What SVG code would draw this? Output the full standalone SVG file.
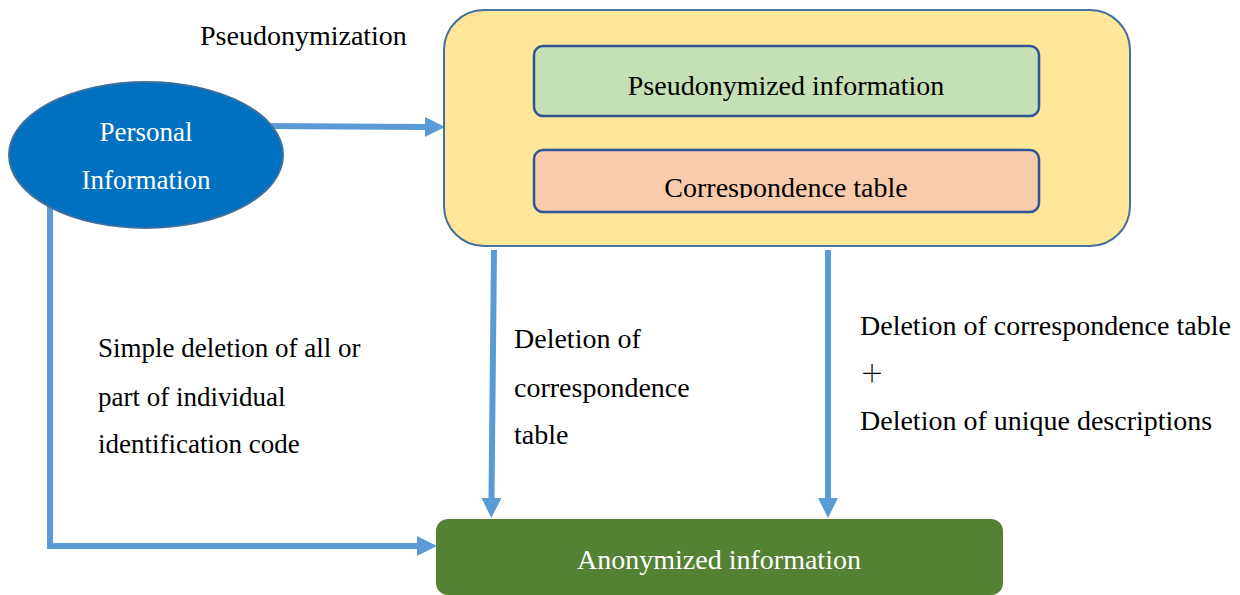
<svg xmlns="http://www.w3.org/2000/svg" width="1240" height="595" viewBox="0 0 1240 595">
  <style>
    text { font-family: "Liberation Serif", "DejaVu Serif", serif; font-size: 28px; fill: #000; }
    .w { fill: #fff; }
    .c { text-anchor: middle; }
    .s27 { font-size: 27px; }
    .conn { fill: none; stroke: #5B9BD5; stroke-width: 6; }
  </style>
  <defs>
    <marker id="arrow" viewBox="0 0 20 20" refX="0" refY="10" markerWidth="20" markerHeight="20" markerUnits="userSpaceOnUse" orient="auto">
      <path d="M0,0 L20,10 L0,20 Z" fill="#5B9BD5"/>
    </marker>
    <clipPath id="tableClip">
      <rect x="534" y="150" width="505" height="48"/>
    </clipPath>
  </defs>

  <rect width="1240" height="595" fill="#fff"/>

  <!-- connectors -->
  <g id="connectors">
    <path class="conn" d="M263,126 L425,127" marker-end="url(#arrow)"/>
    <path class="conn" d="M50,205 L50,546 L417,546" marker-end="url(#arrow)"/>
    <path class="conn" d="M494,250 L491.5,498" marker-end="url(#arrow)"/>
    <path class="conn" d="M828,250 L828,498" marker-end="url(#arrow)"/>
  </g>

  <!-- source node -->
  <g id="personal">
    <ellipse cx="146" cy="155" rx="137" ry="73" fill="#0070C0" stroke="#41719C" stroke-width="2"/>
    <text class="w c s27" x="146" y="141" font-family="Liberation Serif, serif">Personal</text>
    <text class="w c s27" x="146" y="189" font-family="Liberation Serif, serif">Information</text>
  </g>

  <!-- pseudonymization container -->
  <g id="pseudonymization">
    <text x="200" y="45">Pseudonymization</text>
    <rect x="444" y="10" width="686" height="236" rx="40" fill="#FFE699" stroke="#41719C" stroke-width="2"/>
  </g>

  <g id="pseudonymized-info">
    <rect x="534" y="46" width="505" height="70" rx="9" fill="#C5E0B4" stroke="#2F5597" stroke-width="2.5"/>
    <text class="c" x="786" y="95">Pseudonymized information</text>
  </g>

  <g id="correspondence-table">
    <rect x="534" y="150" width="505" height="62" rx="9" fill="#F8CBAD" stroke="#2F5597" stroke-width="2.5"/>
    <text class="c" x="786" y="197" clip-path="url(#tableClip)">Correspondence table</text>
  </g>

  <!-- result node -->
  <g id="anonymized">
    <rect x="436" y="519" width="567" height="76" rx="12" fill="#548235"/>
    <text class="w c" x="719" y="569">Anonymized information</text>
  </g>

  <!-- connector labels -->
  <g id="label-simple">
    <text class="s27" x="98" y="357">Simple deletion of all or</text>
    <text class="s27" x="98" y="406">part of individual</text>
    <text class="s27" x="98" y="453">identification code</text>
  </g>
  <g id="label-table">
    <text x="514" y="348">Deletion of</text>
    <text x="514" y="397">correspondence</text>
    <text x="514" y="444">table</text>
  </g>
  <g id="label-both">
    <text x="860" y="335">Deletion of correspondence table</text>
    <text x="860" y="382" style="font-family:'Noto Sans CJK JP', sans-serif; font-size:24px; font-weight:300">＋</text>
    <text x="860" y="430">Deletion of unique descriptions</text>
  </g>
</svg>
